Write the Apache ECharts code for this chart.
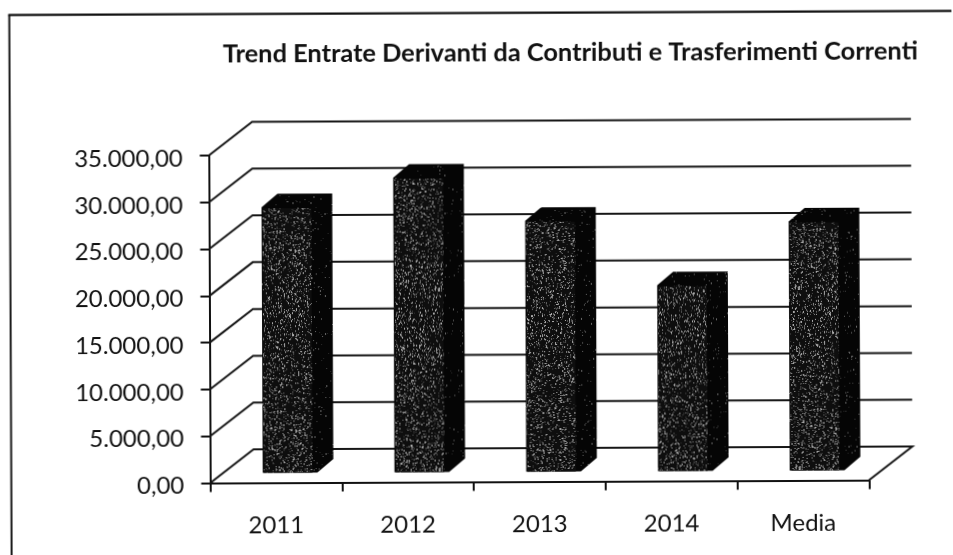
<!DOCTYPE html>
<html>
<head>
<meta charset="utf-8">
<script src="https://cdn.jsdelivr.net/npm/echarts@6/dist/echarts.min.js"></script>
<style>html,body{margin:0;padding:0;background:#fff;overflow:hidden}#c{width:953px;height:555px;transform:rotate(-0.25deg);transform-origin:560px 320px}</style>
</head>
<body>
<div id="c"></div>
<script>
const categories = ['2011', '2012', '2013', '2014', 'Media'];
const values = [28370, 31480, 26800, 19840, 26620];
const yTicks = [0, 5000, 10000, 15000, 20000, 25000, 30000, 35000];
const yTickLabels = ['0,00', '5.000,00', '10.000,00', '15.000,00', '20.000,00', '25.000,00', '30.000,00', '35.000,00'];
const titleText = 'Trend Entrate Derivanti da Contributi e Trasferimenti Correnti';

const WALL = [43.5, -33.5];
const BAR_OFF = [14, -10];
const BAR_DEPTH = [16, -13.5];
const BAR_RATIO = 0.415;

function speckle(size, base, light, density, seed) {
  const cv = document.createElement('canvas');
  cv.width = cv.height = size;
  const g = cv.getContext('2d');
  g.fillStyle = base;
  g.fillRect(0, 0, size, size);
  let s = seed;
  const next = () => (s = (s * 1664525 + 1013904223) >>> 0) / 4294967296;
  const count = Math.round(size * size * density);
  for (let i = 0; i < count; i++) {
    g.fillStyle = light[Math.floor(next() * light.length)];
    g.fillRect(Math.floor(next() * size), Math.floor(next() * size), 1, next() > 0.6 ? 2 : 1);
  }
  return cv;
}
const frontFill = { image: speckle(180, '#0e0e0e', ['#333', '#4a4a4a', '#666', '#888', '#aaa'], 0.17, 7), repeat: 'repeat' };
const sideFill = { image: speckle(120, '#050505', ['#2a2a2a', '#444', '#666'], 0.02, 11), repeat: 'repeat' };

function renderWall(params, api) {
  const v = api.value(1);
  const band = api.size([1, 0])[0];
  const l = api.coord([0, v]);
  const r = api.coord([categories.length - 1, v]);
  const x0 = l[0] - band / 2, y0 = l[1];
  const xr = r[0] + band / 2;
  const style = { stroke: '#161616', lineWidth: 2, fill: 'none' };
  const pts = [[x0, y0], [x0 + WALL[0], y0 + WALL[1]], [xr + WALL[0], y0 + WALL[1]]];
  if (v === 0) pts.push([xr, y0]);
  return { type: 'polyline', shape: { points: pts }, style: style, silent: true };
}

function renderBar(params, api) {
  const idx = api.value(0);
  const top = api.coord([idx, api.value(1)]);
  const base = api.coord([idx, 0]);
  const band = api.size([1, 0])[0];
  const w = band * BAR_RATIO;
  const xl = top[0] + BAR_OFF[0] - w / 2, xr = xl + w;
  const yt = top[1] + BAR_OFF[1], yb = base[1] + BAR_OFF[1];
  const dx = BAR_DEPTH[0], dy = BAR_DEPTH[1];
  return {
    type: 'group',
    children: [
      { type: 'polygon', shape: { points: [[xl, yt], [xl + dx, yt + dy], [xr + dx, yt + dy], [xr + dx, yb + dy], [xr, yb], [xl, yb]] }, style: { fill: sideFill } },
      { type: 'polygon', shape: { points: [[xl + 1, yt + 1], [xr - 5, yt + 1], [xr - 5, yb], [xl + 1, yb]] }, style: { fill: frontFill } }
    ]
  };
}

const chart = echarts.init(document.getElementById('c'), null, { renderer: 'canvas' });
chart.setOption({
  animation: false,
  backgroundColor: '#fff',
  title: {
    text: titleText,
    left: 219,
    top: 35,
    textStyle: { fontFamily: 'Lato', fontWeight: 'bold', fontSize: 25.4, color: '#111' }
  },
  grid: { left: 209.5, right: 84.7, top: 154, bottom: 73.5 },
  xAxis: {
    type: 'category',
    data: categories,
    boundaryGap: true,
    axisLine: { lineStyle: { color: '#111', width: 2 } },
    axisTick: { show: true, alignWithLabel: false, length: 9, lineStyle: { color: '#111', width: 2 } },
    axisLabel: { color: '#111', fontFamily: 'Lato', fontSize: 24, margin: 31 },
    splitLine: { show: false }
  },
  yAxis: {
    type: 'value',
    min: 0,
    max: 35000,
    interval: 5000,
    axisLine: { show: true, lineStyle: { color: '#111', width: 2 } },
    axisTick: { show: true, length: 9, lineStyle: { color: '#111', width: 2 } },
    axisLabel: {
      color: '#111', fontFamily: 'Lato', fontSize: 24, margin: 26,
      rich: { t: { color: '#111', fontFamily: 'Lato', fontSize: 24, padding: [6, 0, 0, 0] } },
      formatter: function (v) { return '{t|' + yTickLabels[yTicks.indexOf(v)] + '}'; }
    },
    splitLine: { show: false }
  },
  graphic: [
    { type: 'line', shape: { x1: 10.6, y1: 12.6, x2: 10.6, y2: 560 }, style: { stroke: '#1a1a1a', lineWidth: 2 } },
    { type: 'line', shape: { x1: 9.6, y1: 12.6, x2: 960, y2: 12.6 }, style: { stroke: '#111', lineWidth: 2.4 } }
  ],
  series: [
    { type: 'custom', renderItem: renderWall, clip: false, z: 1, silent: true,
      data: yTicks.map(function (v) { return [0, v]; }) },
    { type: 'custom', renderItem: renderBar, clip: false, z: 2,
      encode: { x: 0, y: 1 },
      data: values.map(function (v, i) { return [i, v]; }) }
  ]
});
</script>
</body>
</html>
